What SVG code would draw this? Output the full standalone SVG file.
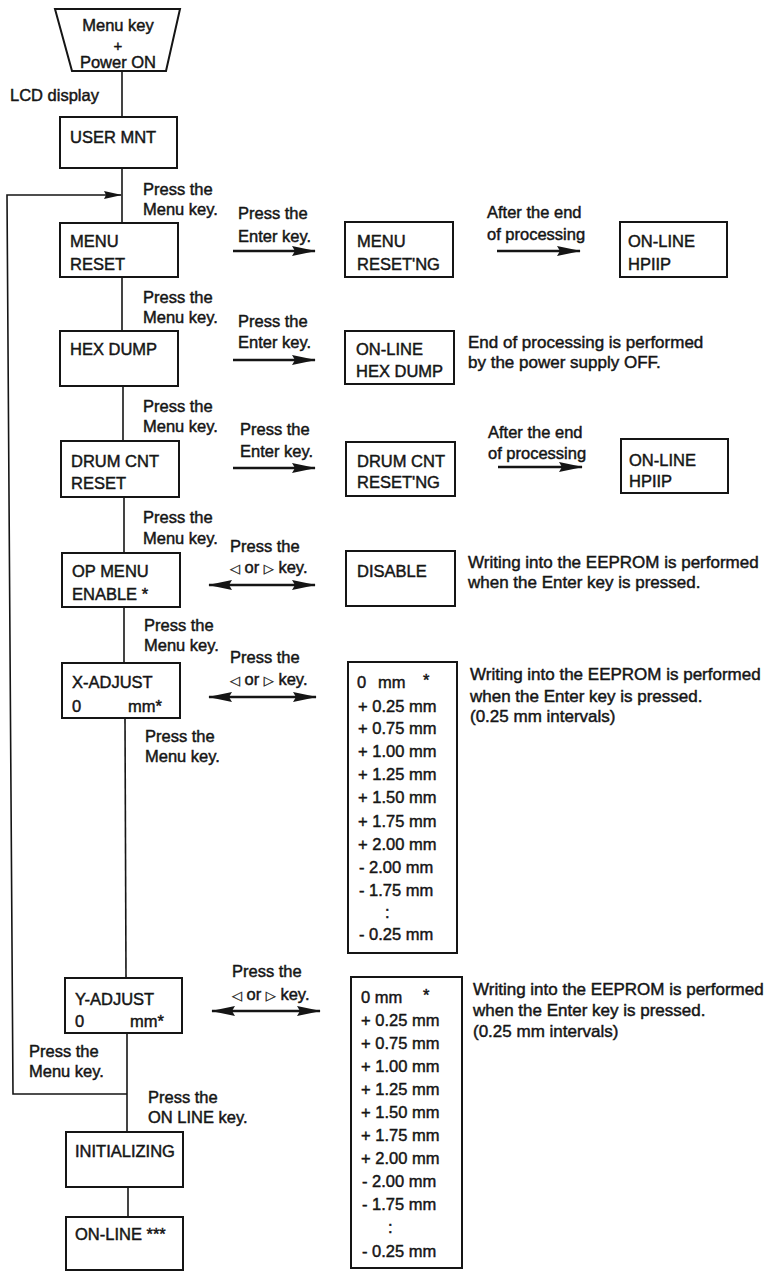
<svg xmlns="http://www.w3.org/2000/svg" width="772" height="1271" viewBox="0 0 772 1271">
<style>
text{font-family:"Liberation Sans",Arial,Helvetica,sans-serif;font-size:16.5px;fill:#151515;stroke:#151515;stroke-width:0.45px}
.note{font-size:17px}
.box{fill:#fff;stroke:#151515;stroke-width:2}
.ln{fill:none;stroke:#151515;stroke-width:1.6}
.ar{fill:none;stroke:#151515;stroke-width:2.6}
.sym{font-family:"DejaVu Sans",sans-serif;font-size:13px;stroke-width:0.3px}
</style>
<defs>
<marker id="ah" viewBox="0 0 24 10" refX="23" refY="5" markerWidth="24" markerHeight="10" markerUnits="userSpaceOnUse" orient="auto-start-reverse">
<path d="M0,0 L24,5 L0,10 L3,5 z" fill="#151515"/>
</marker>
<marker id="ah2" viewBox="0 0 18 8" refX="17" refY="4" markerWidth="18" markerHeight="8" markerUnits="userSpaceOnUse" orient="auto">
<path d="M0,0 L18,4 L0,8 L2,4 z" fill="#151515"/>
</marker>
</defs>

<g id="connectors">
<line class="ln" x1="122" y1="71" x2="122" y2="117"/>
<line class="ln" x1="122" y1="168" x2="122" y2="223"/>
<line class="ln" x1="122" y1="277" x2="122" y2="331"/>
<line class="ln" x1="123" y1="386" x2="123" y2="441"/>
<line class="ln" x1="124" y1="497" x2="124" y2="553"/>
<line class="ln" x1="124" y1="607" x2="124" y2="663"/>
<line class="ln" x1="125" y1="718" x2="126" y2="978"/>
<line class="ln" x1="127" y1="1033" x2="127" y2="1132"/>
<line class="ln" x1="128" y1="1187" x2="128" y2="1217"/>
<path class="ln" d="M127,1094 L13,1094 L7,195 L121,195" marker-end="url(#ah2)"/>
<line class="ar" x1="233" y1="251" x2="315" y2="251" marker-end="url(#ah)"/>
<line class="ar" x1="497" y1="251" x2="580" y2="251" marker-end="url(#ah)"/>
<line class="ar" x1="233" y1="360" x2="315" y2="360" marker-end="url(#ah)"/>
<line class="ar" x1="233" y1="468" x2="315" y2="468" marker-end="url(#ah)"/>
<line class="ar" x1="498" y1="467" x2="582" y2="467" marker-end="url(#ah)"/>
<line class="ar" x1="209" y1="585" x2="315" y2="585" marker-start="url(#ah)" marker-end="url(#ah)"/>
<line class="ar" x1="209" y1="697" x2="316" y2="697" marker-start="url(#ah)" marker-end="url(#ah)"/>
<line class="ar" x1="212" y1="1011" x2="320" y2="1011" marker-start="url(#ah)" marker-end="url(#ah)"/>
</g>

<g id="labels">
<text x="10" y="101">LCD display</text>
<text x="143" y="195">Press the</text><text x="143" y="215">Menu key.</text>
<text x="143" y="303">Press the</text><text x="143" y="323">Menu key.</text>
<text x="143" y="412">Press the</text><text x="143" y="432">Menu key.</text>
<text x="143" y="523">Press the</text><text x="143" y="544">Menu key.</text>
<text x="144" y="631">Press the</text><text x="144" y="651">Menu key.</text>
<text x="145" y="742">Press the</text><text x="145" y="762">Menu key.</text>
<text x="29" y="1057">Press the</text><text x="29" y="1077">Menu key.</text>
<text x="148" y="1103">Press the</text><text x="148" y="1123">ON LINE key.</text>
<text x="238" y="219">Press the</text><text x="238" y="242">Enter key.</text>
<text x="238" y="327">Press the</text><text x="238" y="348">Enter key.</text>
<text x="240" y="435">Press the</text><text x="240" y="457">Enter key.</text>
<text x="230" y="552">Press the</text><text x="230" y="573"><tspan class="sym">◁</tspan> or <tspan class="sym">▷</tspan> key.</text>
<text x="230" y="663">Press the</text><text x="230" y="685"><tspan class="sym">◁</tspan> or <tspan class="sym">▷</tspan> key.</text>
<text x="232" y="977">Press the</text><text x="232" y="1000"><tspan class="sym">◁</tspan> or <tspan class="sym">▷</tspan> key.</text>
<text x="487" y="218">After the end</text><text x="487" y="240">of processing</text>
<text x="488" y="438">After the end</text><text x="488" y="459">of processing</text>
<text class="note" x="468" y="348">End of processing is performed</text>
<text class="note" x="468" y="368">by the power supply OFF.</text>
<text class="note" x="468" y="568">Writing into the EEPROM is performed</text>
<text class="note" x="468" y="588">when the Enter key is pressed.</text>
<text class="note" x="470" y="680">Writing into the EEPROM is performed</text>
<text class="note" x="470" y="702">when the Enter key is pressed.</text>
<text class="note" x="470" y="722">(0.25 mm intervals)</text>
<text class="note" x="473" y="995">Writing into the EEPROM is performed</text>
<text class="note" x="473" y="1016">when the Enter key is pressed.</text>
<text class="note" x="473" y="1037">(0.25 mm intervals)</text>
</g>

<g id="start">
<path class="box" d="M55,9 L180,9 L166,71 L72,71 Z"/>
<text x="118" y="31" text-anchor="middle">Menu key</text>
<text x="118" y="51" text-anchor="middle" style="font-size:15px">+</text>
<text x="118" y="68" text-anchor="middle">Power ON</text>
</g>
<g id="user-mnt"><rect class="box" x="60" y="117" width="117" height="51"/><text x="70" y="143">USER MNT</text></g>
<g id="menu-reset"><rect class="box" x="60" y="223" width="118" height="54"/><text x="70" y="247">MENU</text><text x="70" y="270">RESET</text></g>
<g id="menu-resetng"><rect class="box" x="345" y="222" width="108" height="55"/><text x="357" y="247">MENU</text><text x="357" y="270">RESET'NG</text></g>
<g id="online-hpiip-1"><rect class="box" x="620" y="222" width="107" height="55"/><text x="628" y="247">ON-LINE</text><text x="628" y="270">HPIIP</text></g>
<g id="hex-dump"><rect class="box" x="60" y="331" width="118" height="55"/><text x="70" y="355">HEX DUMP</text></g>
<g id="online-hexdump"><rect class="box" x="345" y="331" width="109" height="53"/><text x="356" y="355">ON-LINE</text><text x="356" y="377">HEX DUMP</text></g>
<g id="drum-cnt-reset"><rect class="box" x="61" y="441" width="118" height="56"/><text x="71" y="467">DRUM CNT</text><text x="71" y="489">RESET</text></g>
<g id="drum-cnt-resetng"><rect class="box" x="346" y="442" width="109" height="54"/><text x="357" y="467">DRUM CNT</text><text x="357" y="488">RESET'NG</text></g>
<g id="online-hpiip-2"><rect class="box" x="621" y="439" width="107" height="54"/><text x="629" y="466">ON-LINE</text><text x="629" y="487">HPIIP</text></g>
<g id="op-menu"><rect class="box" x="62" y="553" width="118" height="54"/><text x="72" y="577">OP MENU</text><text x="72" y="600">ENABLE *</text></g>
<g id="disable"><rect class="box" x="346" y="551" width="109" height="55"/><text x="357" y="577">DISABLE</text></g>
<g id="x-adjust"><rect class="box" x="62" y="663" width="118" height="55"/><text x="72" y="688">X-ADJUST</text><text x="72" y="712">0</text><text x="128" y="712">mm*</text></g>
<g id="x-values"><rect class="box" x="348" y="662" width="109" height="291"/>
<text x="357" y="688">0</text><text x="378" y="688">mm</text><text x="423" y="686">*</text>
<text x="358" y="712">+ 0.25 mm</text>
<text x="358" y="734">+ 0.75 mm</text>
<text x="358" y="757">+ 1.00 mm</text>
<text x="358" y="780">+ 1.25 mm</text>
<text x="358" y="803">+ 1.50 mm</text>
<text x="358" y="827">+ 1.75 mm</text>
<text x="358" y="850">+ 2.00 mm</text>
<text x="359" y="873">- 2.00 mm</text>
<text x="359" y="896">- 1.75 mm</text>
<text x="385" y="918">:</text>
<text x="359" y="940">- 0.25 mm</text>
</g>
<g id="y-adjust"><rect class="box" x="65" y="978" width="117" height="55"/><text x="75" y="1005">Y-ADJUST</text><text x="75" y="1027">0</text><text x="130" y="1027">mm*</text></g>
<g id="y-values"><rect class="box" x="351" y="977" width="111" height="291"/>
<text x="361" y="1003">0 mm</text><text x="423" y="1001">*</text>
<text x="361" y="1026">+ 0.25 mm</text>
<text x="361" y="1049">+ 0.75 mm</text>
<text x="361" y="1072">+ 1.00 mm</text>
<text x="361" y="1095">+ 1.25 mm</text>
<text x="361" y="1118">+ 1.50 mm</text>
<text x="361" y="1141">+ 1.75 mm</text>
<text x="361" y="1164">+ 2.00 mm</text>
<text x="362" y="1187">- 2.00 mm</text>
<text x="362" y="1210">- 1.75 mm</text>
<text x="388" y="1233">:</text>
<text x="362" y="1257">- 0.25 mm</text>
</g>
<g id="initializing"><rect class="box" x="66" y="1132" width="117" height="55"/><text x="75" y="1157">INITIALIZING</text></g>
<g id="online-final"><rect class="box" x="66" y="1217" width="117" height="53"/><text x="75" y="1240">ON-LINE ***</text></g>
</svg>
